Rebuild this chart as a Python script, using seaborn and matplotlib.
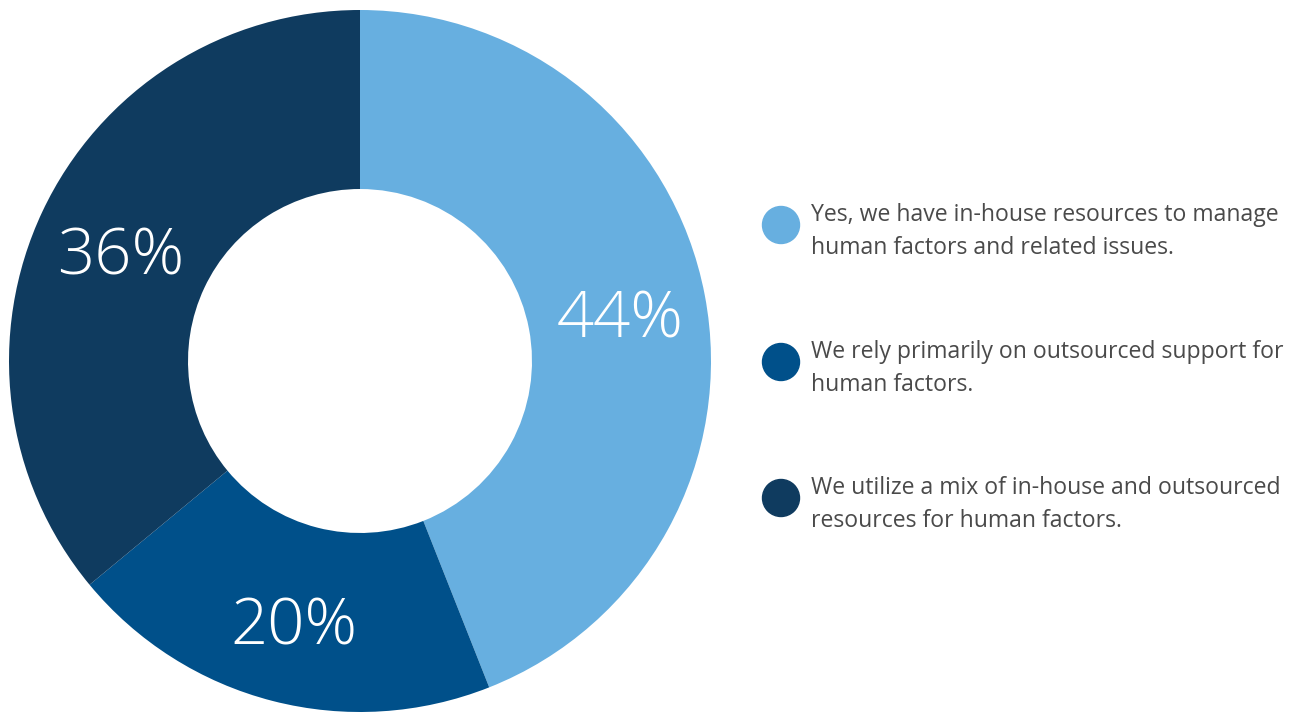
import matplotlib
matplotlib.use("Agg")
import matplotlib.pyplot as plt
import matplotlib.transforms as mtransforms
from matplotlib.patches import Ellipse
import seaborn as sns

categories = [
    "Yes, we have in-house resources to manage\nhuman factors and related issues.",
    "We rely primarily on outsourced support for\nhuman factors.",
    "We utilize a mix of in-house and outsourced\nresources for human factors.",
]
shares = [44, 20, 36]
colors = ["#67AFE0", "#00508A", "#0F3B5F"]

sns.set_theme(style="white")
plt.rcParams["font.family"] = ["Open Sans", "DejaVu Sans"]

W, H = 1293, 713
fig = plt.figure(figsize=(W / 100, H / 100), dpi=100)

# donut axes: centre (360, 361) px, outer radius 351 px
cx, cy, r = 360, 361, 351
ax = fig.add_axes([(cx - r) / W, (H - cy - r) / H, 2 * r / W, 2 * r / H])
wedges, _, autotexts = ax.pie(
    shares,
    colors=colors,
    startangle=90,
    counterclock=False,
    radius=1,
    autopct=lambda p: f"{p:.0f}%",
    pctdistance=0.755,
    wedgeprops=dict(width=0.51, linewidth=0),
    textprops=dict(color="white", fontsize=47, fontweight="light"),
)
for t in autotexts:
    t.set_transform(mtransforms.offset_copy(t.get_transform(), fig=fig, x=0, y=-10, units="dots"))
ax.set_xlim(-1, 1)
ax.set_ylim(-1, 1)
ax.set_aspect("equal")
ax.axis("off")

# legend: coloured dots with wrapped descriptions
dot_x = 781
dot_ys = [225, 362, 498]
text_x = 811
for lab, col, y in zip(categories, colors, dot_ys):
    fig.patches.append(
        Ellipse(
            (dot_x / W, 1 - y / H), 37 / W, 37 / H,
            transform=fig.transFigure, color=col, zorder=3,
        )
    )
    fig.text(
        text_x / W, 1 - (y - 22) / H, lab,
        ha="left", va="top", fontsize=16.6, color="#4a4a4a",
        linespacing=1.5,
    )

fig.savefig("out.png", dpi=100)
